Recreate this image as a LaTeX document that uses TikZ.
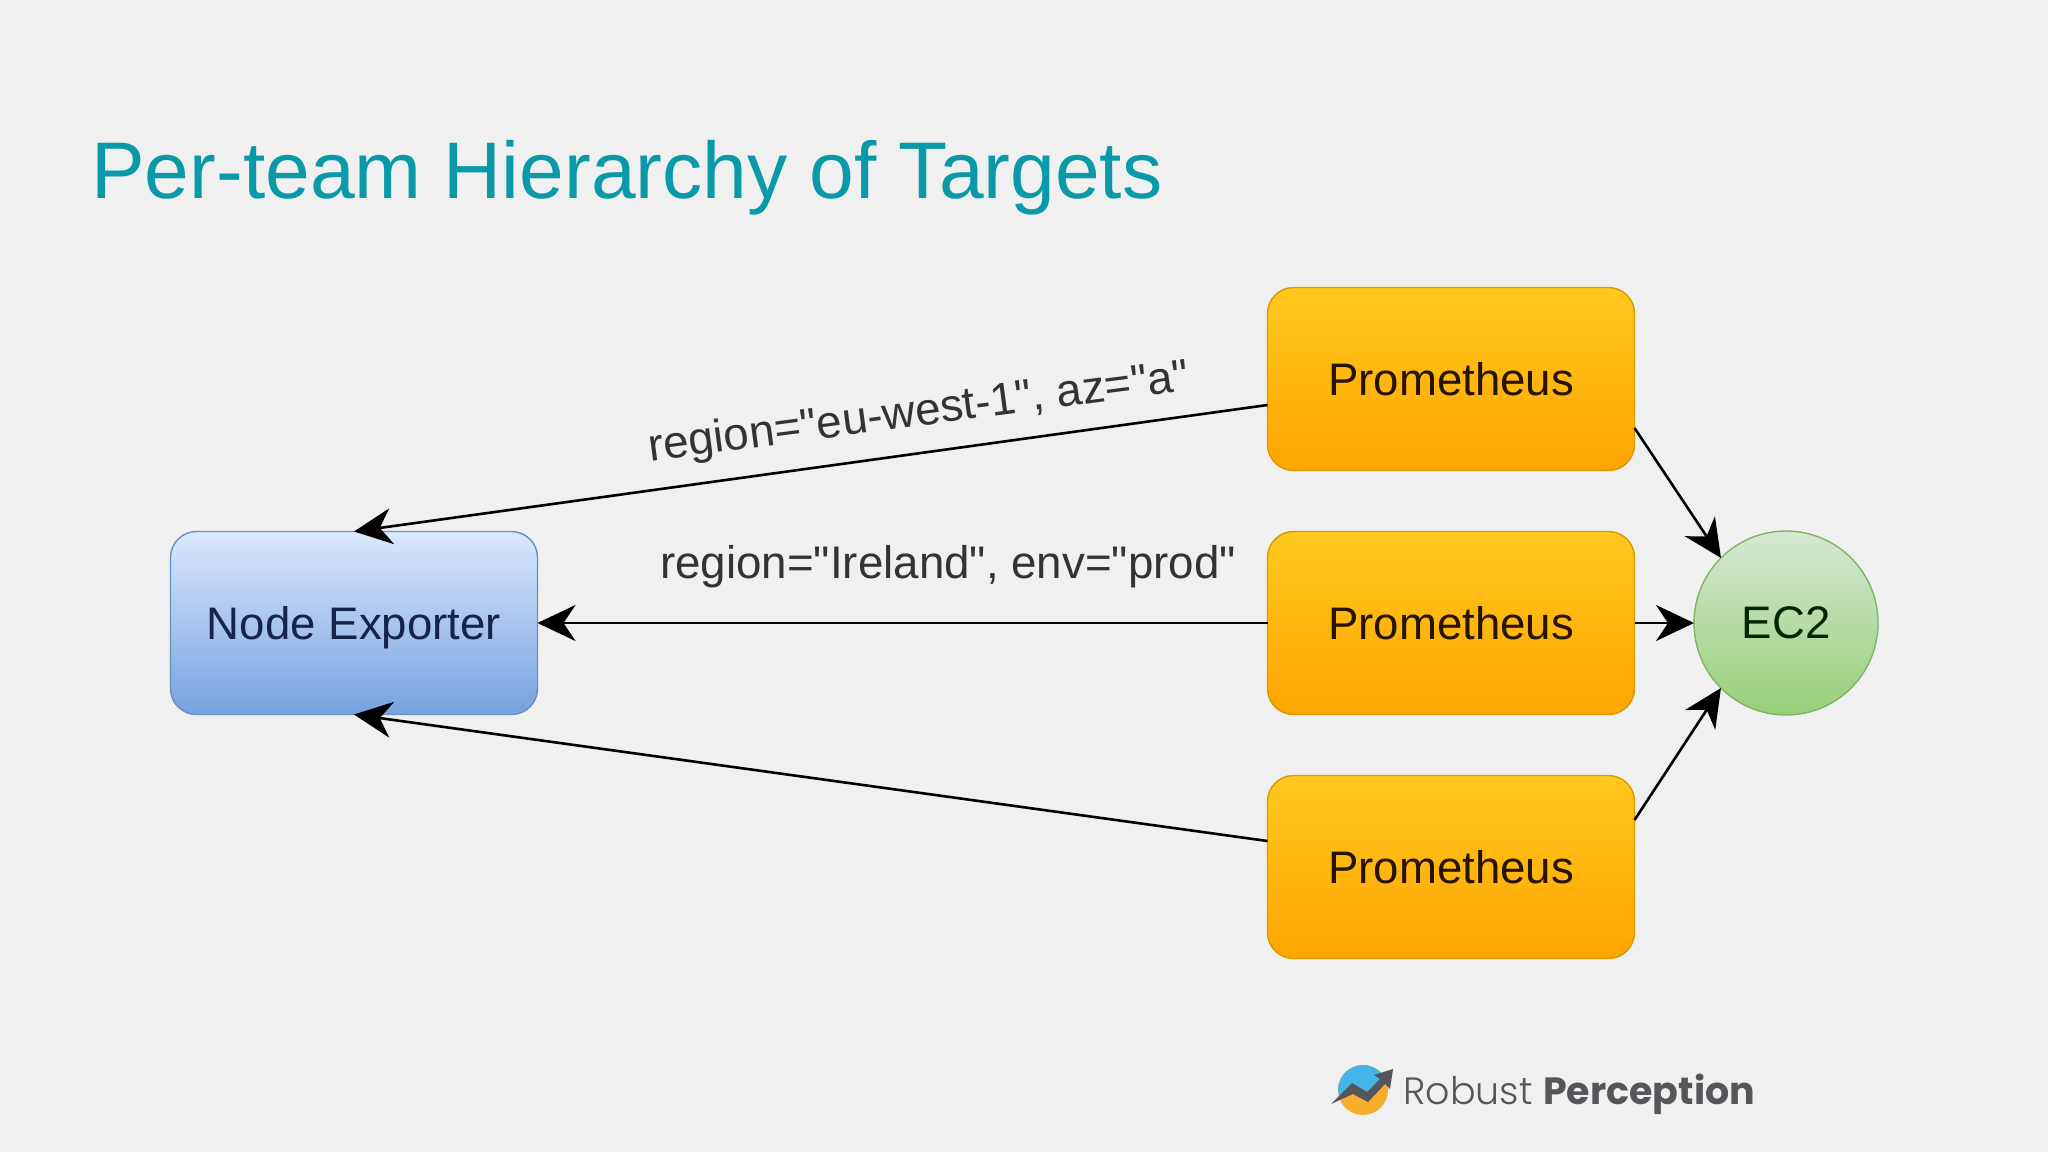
\documentclass[tikz,border=0pt]{standalone}
\usepackage{fontspec}
\setmainfont{Liberation Sans}
\newfontfamily\labelfont{Liberation Sans}
\newfontfamily\logofont{Poppins}[UprightFont=* Light,BoldFont=* Bold]
\usetikzlibrary{arrows.meta,shapes.geometric}
\definecolor{bgcol}{HTML}{F0F0F0}
\definecolor{titlecol}{HTML}{0A99A8}
\definecolor{logogrey}{HTML}{55565A}
\definecolor{promtopcol}{HTML}{FFC81E}
\definecolor{prombotcol}{HTML}{FFA500}
\definecolor{promline}{HTML}{D79B00}
\definecolor{exptopcol}{HTML}{DAE8FC}
\definecolor{expbotcol}{HTML}{76A2E0}
\definecolor{expline}{HTML}{6C8EBF}
\definecolor{exptext}{HTML}{14244A}
\definecolor{ec2topcol}{HTML}{D5E8D4}
\definecolor{ec2botcol}{HTML}{97D077}
\definecolor{ec2line}{HTML}{82B366}
\definecolor{logoblue}{HTML}{45B4E8}
\definecolor{logoorange}{HTML}{F9AE2B}
\tikzset{
  box/.style={rounded corners=13pt,minimum width=183.5pt,minimum height=91.5pt,inner sep=0pt,outer sep=0pt,line width=0.7pt,text depth=0pt,font=\fontsize{22.8pt}{26pt}\selectfont},
  promnode/.style={box,draw=promline,top color=promtopcol,bottom color=prombotcol,text=black!85!orange},
  expnode/.style={box,draw=expline,top color=exptopcol,bottom color=expbotcol,text=exptext},
  ec2node/.style={circle,minimum size=92pt,inner sep=0pt,outer sep=0pt,line width=0.7pt,draw=ec2line,top color=ec2topcol,bottom color=ec2botcol,text=green!15!black,font=\fontsize{22.8pt}{26pt}\selectfont},
  conn/.style={line width=1.3pt,draw=black,-{Stealth[length=19pt,width=18pt,inset=6pt]}},
  edgelabel/.style={inner sep=0pt,text=black!80,font=\labelfont\fontsize{22.85pt}{26pt}\selectfont}
}
\begin{document}
\begin{tikzpicture}[x=0.5pt,y=-0.5pt]
\fill[bgcol] (0,0) rectangle (2048,1152);
\useasboundingbox (0,0) rectangle (2048,1152);
\node[anchor=base west,inner sep=0pt,text=titlecol,font=\fontsize{40.15pt}{44pt}\selectfont] (title) at (91,198) {Per-team Hierarchy of Targets};
\node[promnode] (promtop) at (1451,379) {Prometheus};
\node[promnode] (prommid) at (1451,623) {Prometheus};
\node[promnode] (prombot) at (1451,867) {Prometheus};
\node[expnode] (exporter) at (354,623) {Node Exporter};
\node[ec2node] (ec2) at (1786,623) {EC2};
\draw[conn] ([yshift=-13pt]promtop.west) -- (exporter.north);
\draw[conn] (prommid.west) -- (exporter.east);
\draw[conn] ([yshift=13pt]prombot.west) -- (exporter.south);
\draw[conn] ([yshift=-24.5pt]promtop.east) -- (ec2.135);
\draw[conn] (prommid.east) -- (ec2.west);
\draw[conn] ([yshift=23.5pt]prombot.east) -- (ec2.225);
\node[edgelabel,rotate=7.5] (labeltop) at (919,414) {region="eu-west-1", az="a"};
\node[edgelabel] (labelmid) at (948,567) {region="Ireland", env="prod"};
% logo
\fill[logoorange] (1363,1090) circle[radius=25];
\fill[logoblue] (1338,1090) arc[start angle=180,end angle=360,radius=25] -- (1388,1080) -- (1370,1095) -- (1355,1085) -- (1340,1098) -- cycle;
\fill[logogrey] (1331,1104) -- (1352,1083) -- (1367,1092) -- (1380,1079) -- (1374,1075) -- (1393,1069) -- (1390,1089) -- (1385,1084) -- (1368,1102) -- (1353,1094) -- cycle;
\node[anchor=base west,inner sep=0pt,text=logogrey,font=\logofont\fontsize{19pt}{22pt}\selectfont] (logotext) at (1403,1104) {Robust \textbf{Perception}};
\end{tikzpicture}
\end{document}
